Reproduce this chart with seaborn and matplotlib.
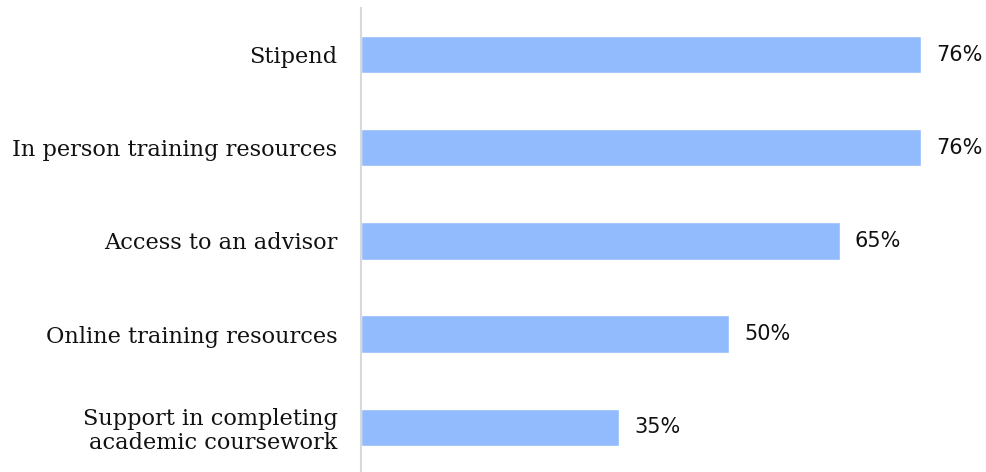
import matplotlib
matplotlib.use("Agg")
import matplotlib.pyplot as plt
import seaborn as sns
import pandas as pd

categories = [
    "Stipend",
    "In person training resources",
    "Access to an advisor",
    "Online training resources",
    "Support in completing\nacademic coursework",
]
values = [76, 76, 65, 50, 35]
value_labels = ["76%", "76%", "65%", "50%", "35%"]

df = pd.DataFrame({"category": categories, "value": values})

sns.set_theme(style="white")

fig = plt.figure(figsize=(9.87, 4.72), dpi=100)
ax = fig.add_axes([361 / 987, 0, 626 / 987, 464 / 472])

sns.barplot(data=df, x="value", y="category", color="#91BBFD",
            saturation=1, width=0.4, ax=ax, orient="h")

ax.set_xlim(0, 85)
ax.set_ylim(4.48, -0.5)
ax.set_xlabel("")
ax.set_ylabel("")
ax.set_xticks([])

for s in ["top", "right", "bottom"]:
    ax.spines[s].set_visible(False)
ax.spines["left"].set_color("#d9d9d9")
ax.spines["left"].set_linewidth(1.5)

ax.tick_params(axis="y", length=0, pad=17)
for lab in ax.get_yticklabels():
    lab.set_fontfamily("DejaVu Serif")
    lab.set_fontsize(16.2)
    lab.set_color("#111111")
    lab.set_horizontalalignment("right")
    lab.set_multialignment("right")
    lab.set_linespacing(1.15)

for i, (v, t) in enumerate(zip(values, value_labels)):
    ax.annotate(t, xy=(v, i), xytext=(11, 0), textcoords="offset points",
                va="center", ha="left", fontsize=15, family="DejaVu Sans",
                color="#111111")

fig.savefig("out.png", dpi=100)
